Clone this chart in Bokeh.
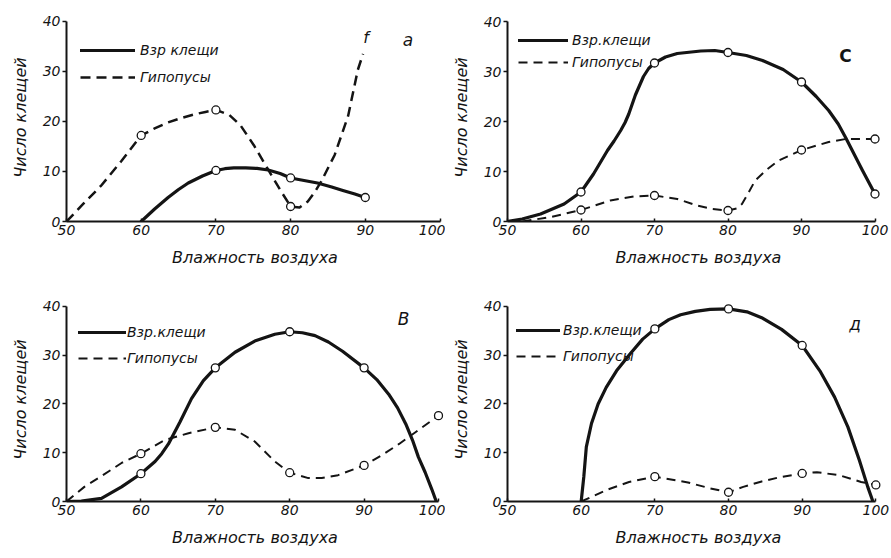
from bokeh.plotting import figure
from bokeh.layouts import gridplot
from bokeh.models import Range1d, FixedTicker, Legend, LegendItem, Label
from bokeh.embed import file_html
from bokeh.resources import INLINE

# ---------------- data ----------------
humidity_ticks = [50, 60, 70, 80, 90, 100]
count_ticks = [0, 10, 20, 30, 40]
x_title = "Влажность воздуха"
y_title = "Число клещей"

# panel a
a_adult_pts_x = [70, 80, 90]
a_adult_pts_y = [10.2, 8.7, 4.8]
a_adult_line_x = [60, 61.8, 63.6, 65, 66.3, 68.2, 70, 71.2, 72.4, 74, 75.5, 77, 78.6, 80, 81.8,
                  83.6, 85.5, 87, 88.6, 90]
a_adult_line_y = [0, 2.5, 4.8, 6.4, 7.7, 9.1, 10.2, 10.55, 10.7, 10.7, 10.6, 10.3, 9.6, 8.7, 8.2,
                  7.7, 6.9, 6.2, 5.5, 4.8]
a_hypo_pts_x = [60, 70, 80]
a_hypo_pts_y = [17.2, 22.3, 3.0]
a_hypo_line_x = [50, 52.3, 54.6, 57.3, 60, 61.8, 63.6, 65.4, 67.1, 68.6, 70, 71.8, 73.3, 75.1,
                 76.9, 78.7, 80, 81.2, 82.3, 83.2, 84.1, 85.9, 87.7, 89.0, 89.7]
a_hypo_line_y = [0, 3.6, 7.1, 12.0, 17.2, 18.6, 19.8, 20.7, 21.4, 21.9, 22.3, 21.3, 19.2, 15.2,
                 10.6, 6.1, 3.0, 2.8, 4.0, 5.8, 8.0, 13.3, 21.1, 30.3, 33.5]

# panel c
c_adult_pts_x = [60, 70, 80, 90, 100]
c_adult_pts_y = [5.9, 31.7, 33.8, 27.9, 5.5]
c_adult_line_x = [50, 52, 54.5, 57.7, 60, 61.7, 63.6, 64.5, 65.4, 66.0, 66.5, 67.4, 68.5, 69.2,
                  70, 71.5, 73.1, 76.3, 78.2, 80, 82.5, 84.7, 87.5, 90, 92, 93.7, 95, 96, 98.3, 100]
c_adult_line_y = [0, 0.5, 1.5, 3.5, 5.9, 9.5, 14.2, 16.1, 18.2, 19.8, 21.5, 25.3, 29.0, 30.6,
                  31.7, 32.9, 33.6, 34.1, 34.2, 33.8, 33.2, 32.2, 30.4, 27.9, 25.0, 22.2, 19.5,
                  16.8, 10.2, 5.5]
c_hypo_pts_x = [60, 70, 80, 90, 100]
c_hypo_pts_y = [2.3, 5.2, 2.2, 14.3, 16.5]
c_hypo_line_x = [50, 52, 55.9, 60, 64, 67.2, 70, 73.1, 75.8, 77.9, 80, 81.2, 81.9, 82.8, 83.7,
                 85.3, 86.9, 90, 93.7, 96, 100]
c_hypo_line_y = [0, 0, 0.9, 2.3, 4.2, 5.0, 5.2, 4.5, 3.2, 2.5, 2.2, 2.6, 3.5, 5.8, 8.2, 10.4,
                 12.2, 14.3, 15.9, 16.5, 16.5]

# panel b
b_adult_pts_x = [60, 70, 80, 90]
b_adult_pts_y = [5.7, 27.4, 34.8, 27.4]
b_adult_line_x = [50, 52, 54.7, 57.4, 60, 61.9, 62.8, 63.7, 65.25, 66.8, 68.4, 70, 72.65, 75.3,
                  78, 80, 81.7, 83.4, 85.2, 87.1, 90, 91.7, 93.3, 94.5, 95.6, 96.5, 97.3, 98.2,
                  99.1, 99.7]
b_adult_line_y = [0, 0.1, 0.65, 3.0, 5.7, 8.2, 9.8, 11.8, 16.3, 21.1, 24.8, 27.4, 30.6, 32.9,
                  34.3, 34.8, 34.6, 34.0, 32.7, 30.8, 27.4, 25.0, 22.0, 19.2, 15.9, 12.6, 9.1,
                  6.0, 2.5, 0]
b_hypo_pts_x = [60, 70, 80, 90, 100]
b_hypo_pts_y = [9.8, 15.2, 5.9, 7.4, 17.6]
b_hypo_line_x = [50, 52.4, 55, 57.4, 60, 63.2, 66.4, 70, 72.65, 75.3, 78, 80, 82.5, 84.3, 86.5,
                 90, 92.5, 94.7, 96.9, 100]
b_hypo_line_y = [0, 3, 5.5, 7.9, 9.8, 12.6, 14.0, 15.2, 14.7, 12.3, 8.2, 5.9, 4.8, 4.8, 5.4,
                 7.4, 9.6, 11.8, 14.2, 17.6]

# panel d
d_adult_pts_x = [70, 80, 90]
d_adult_pts_y = [35.4, 39.5, 32.0]
d_adult_line_x = [60, 60.36, 60.7, 61.4, 62.3, 63.4, 64.8, 66.6, 68.35, 70, 71.9, 73.5, 75.5,
                  77.5, 80, 82.5, 84.5, 87.2, 90, 92.4, 94.4, 96.2, 97.75, 98.9, 99.6]
d_adult_line_y = [0, 5.1, 11.2, 16.0, 20.0, 23.4, 26.8, 30.2, 33.3, 35.4, 37.3, 38.3, 39.0,
                  39.4, 39.5, 38.9, 37.7, 35.3, 32.0, 26.8, 21.4, 15.3, 8.5, 3.0, 0]
d_hypo_pts_x = [70, 80, 90, 100]
d_hypo_pts_y = [5.1, 1.9, 5.75, 3.4]
d_hypo_line_x = [60, 63.7, 66.5, 70, 74.5, 77.5, 80, 82, 84.5, 87, 90, 92, 95, 98, 100]
d_hypo_line_y = [0, 2.5, 4.0, 5.1, 3.9, 2.7, 1.9, 3.0, 4.1, 5.0, 5.75, 6.0, 5.4, 4.0, 3.4]

# ---------------- styling ----------------
FONT = "DejaVu Sans"
INK = "#141414"


def panel(W, H, L, R, T, B, SX, SY, adult, hypo, leg, labels, tags):
    x_end = 50 + (W - L - R) / SX
    y_end = (H - T - B) / SY
    p = figure(width=W, height=H, x_range=Range1d(50, x_end), y_range=Range1d(0, y_end),
               output_backend="svg", toolbar_location=None,
               min_border_left=L, min_border_right=R, min_border_top=T, min_border_bottom=B)
    p.outline_line_color = None
    p.grid.visible = False
    p.background_fill_color = "white"
    p.border_fill_color = "white"

    for ax in (p.xaxis[0], p.yaxis[0]):
        ax.axis_line_width = 2
        ax.axis_line_color = INK
        ax.major_tick_line_color = INK
        ax.major_tick_line_width = 1.5
        ax.minor_tick_line_color = None
        ax.major_label_text_font = FONT
        ax.major_label_text_font_style = "italic"
        ax.major_label_text_font_size = "14px"
        ax.major_label_text_color = INK
        ax.axis_label_text_font = FONT
        ax.axis_label_text_font_style = "italic"
        ax.axis_label_text_font_size = "16px"
        ax.axis_label_text_color = INK
    p.xaxis.ticker = FixedTicker(ticks=humidity_ticks)
    p.yaxis.ticker = FixedTicker(ticks=count_ticks)
    p.xaxis.bounds = (50, 100)
    p.yaxis.bounds = (0, 40)
    p.xaxis.major_tick_in = 3
    p.xaxis.major_tick_out = 0
    p.yaxis.major_tick_in = 0
    p.yaxis.major_tick_out = 4
    p.xaxis.major_label_standoff = 3
    p.yaxis.major_label_standoff = 2
    p.xaxis.axis_label = x_title
    p.yaxis.axis_label = y_title
    p.xaxis.axis_label_standoff = 10
    p.yaxis.axis_label_standoff = 10

    hx, hy, hpx, hpy, hw, hdash = hypo
    ax_, ay_, apx, apy = adult
    r_h = p.line(hx, hy, line_color=INK, line_width=hw, line_dash=hdash, line_join="round")
    r_a = p.line(ax_, ay_, line_color=INK, line_width=3.2, line_join="round", line_cap="round")
    p.scatter(hpx, hpy, size=8, fill_color="white", line_color=INK, line_width=1.3)
    p.scatter(apx, apy, size=8, fill_color="white", line_color=INK, line_width=1.3)

    left, row0, row1, gw, standoff = leg
    gh = 20
    spacing = (row1 - row0) - gh
    top = row0 - gh / 2
    height = 2 * gh + spacing
    lg = Legend(items=[LegendItem(label=labels[0], renderers=[r_a]),
                       LegendItem(label=labels[1], renderers=[r_h])],
                location=(left - L, (H - B) - (top + height)),
                padding=0, margin=0, spacing=spacing, glyph_height=gh, glyph_width=gw,
                label_height=gh, label_standoff=standoff,
                background_fill_alpha=0, border_line_alpha=0,
                label_text_font=FONT, label_text_font_style="italic",
                label_text_font_size="14px", label_text_color=INK)
    p.add_layout(lg, "center")

    for (tx, ty, tt, style, size) in tags:
        p.add_layout(Label(x=tx, y=ty, text=tt, text_font=FONT, text_font_style=style,
                           text_font_size=size, text_align="center", text_baseline="middle",
                           text_color=INK))
    return p


pa = panel(445, 279, 66, 2, 9, 58, 7.47, 5.1,
           (a_adult_line_x, a_adult_line_y, a_adult_pts_x, a_adult_pts_y),
           (a_hypo_line_x, a_hypo_line_y, a_hypo_pts_x, a_hypo_pts_y, 2.5, "10 6"),
           (80, 50, 77, 55, 5), ("Взр клещи", "Гипопусы"),
           [(95.7, 36.3, "a", "italic", "17px"), (90.1, 36.8, "f", "italic", "16px")])

pc = panel(446, 279, 62, 2, 13, 58, 7.35, 5.0,
           (c_adult_line_x, c_adult_line_y, c_adult_pts_x, c_adult_pts_y),
           (c_hypo_line_x, c_hypo_line_y, c_hypo_pts_x, c_hypo_pts_y, 2, "9 6"),
           (73, 40, 62, 50, 4), ("Взр.клещи", "Гипопусы"),
           [(96.0, 33.2, "C", "bold", "17px")])

pb = panel(445, 279, 65, 2, 16, 57, 7.46, 4.925,
           (b_adult_line_x, b_adult_line_y, b_adult_pts_x, b_adult_pts_y),
           (b_hypo_line_x, b_hypo_line_y, b_hypo_pts_x, b_hypo_pts_y, 2, "9 6"),
           (77, 53, 79, 48, 1), ("Взр.клещи", "Гипопусы"),
           [(95.3, 37.5, "В", "italic", "17px")])

pd_ = panel(446, 279, 59, 2, 18, 56, 7.425, 4.9,
            (d_adult_line_x, d_adult_line_y, d_adult_pts_x, d_adult_pts_y),
            (d_hypo_line_x, d_hypo_line_y, d_hypo_pts_x, d_hypo_pts_y, 2, "9 6"),
            (68, 52, 78, 44, 3), ("Взр.клещи", "Гипопусы"),
            [(97.2, 36.5, "д", "italic", "17px")])

grid = gridplot([[pa, pc], [pb, pd_]], toolbar_location=None)

open("out.html", "w").write(file_html(grid, INLINE))
